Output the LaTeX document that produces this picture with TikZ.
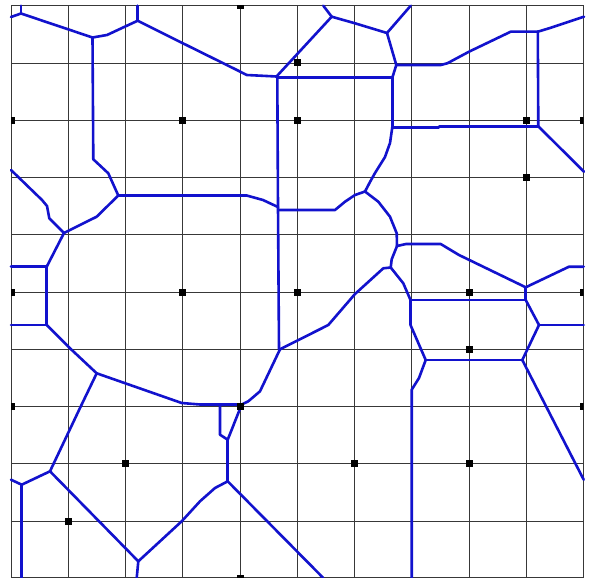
\documentclass[tikz,border=0pt]{standalone}
\definecolor{vblue}{RGB}{18,18,205}
\begin{document}
\begin{tikzpicture}[x=1pt,y=-1pt,
  gridline/.style={draw=black!78, line width=0.9pt},
  edge/.style={draw=vblue, line width=2.6pt, line join=round, line cap=round},
  site/.style={fill=black}]
\useasboundingbox (0,0) rectangle (589,578);
\fill[white] (0,0) rectangle (589,578);
% grid
\foreach \i in {0,...,10} {
  \draw[gridline] ({11+57.27*\i},5.7) -- ({11+57.27*\i},577.6);
}
\foreach \j in {0,...,9} {
  \draw[gridline] (11,{5.7+57.27*\j}) -- (583.7,{5.7+57.27*\j});
}
\draw[gridline] (11,577.6) -- (583.7,577.6);
% junctions
\coordinate (jA) at (21,13.5);
\coordinate (jB) at (92.5,37.5);
\coordinate (jC) at (137.7,20.7);
\coordinate (jD) at (276.5,76.5);
\coordinate (jE) at (331.7,16.7);
\coordinate (jF) at (387,33);
\coordinate (jG) at (396.3,65);
\coordinate (jH) at (392.3,77.7);
\coordinate (jI) at (537.8,31.7);
\coordinate (jJ) at (538.3,126.3);
\coordinate (jK) at (392.3,127.3);
\coordinate (jL) at (118.3,195.5);
\coordinate (jM) at (64,233);
\coordinate (jN) at (278,207);
\coordinate (jO) at (365,191.5);
\coordinate (jP) at (397,246);
\coordinate (jQ) at (390.7,267.5);
\coordinate (jR) at (410.5,300);
\coordinate (jS) at (525.7,287.3);
\coordinate (jT) at (525.7,300);
\coordinate (jU) at (539,325);
\coordinate (jV) at (522.3,360);
\coordinate (jW) at (425.7,360);
\coordinate (jX) at (46.7,266.7);
\coordinate (jY) at (46.7,325);
\coordinate (jZ) at (96.7,373.3);
\coordinate (k1) at (220,404.5);
\coordinate (k2) at (241.7,404.5);
\coordinate (k3) at (227.7,439.7);
\coordinate (k4) at (227.7,481.3);
\coordinate (k5) at (280,349.3);
\coordinate (k6) at (50,471.3);
\coordinate (k7) at (21.7,484.7);
\coordinate (k8) at (138.3,561.3);
% edges
\draw[edge] (11,17) -- (jA);
\draw[edge] (21,5.7) -- (jA);
\draw[edge] (jA) -- (jB);
\draw[edge] (jB) -- (107,35) -- (jC);
\draw[edge] (137.7,5.7) -- (jC);
\draw[edge] (jC) -- (181.7,42.7) -- (238.3,70.7) -- (246.7,75) -- (jD);
\draw[edge] (jB) -- (93.3,159.3) -- (108.3,173.3) -- (jL);
\draw[edge] (11,170) -- (42,200) -- (47,206) -- (49.3,218.3) -- (jM);
\draw[edge] (jM) -- (96.7,216.7) -- (jL);
\draw[edge] (jL) -- (246.7,195.5) -- (263,200) -- (270,203.3) -- (jN);
\draw[edge] (jD) -- (277.3,77.7) -- (jN);
\draw[edge] (jN) -- (279,349.3) -- (k5);
\draw[edge] (278.5,210) -- (335,210) -- (345,201.7) -- (355,195) -- (jO);
\draw[edge] (jD) -- (jE);
\draw[edge] (jE) -- (323.3,5.7);
\draw[edge] (jE) -- (355,23.3) -- (jF);
\draw[edge] (jF) -- (410.7,5.7);
\draw[edge] (jF) -- (jG);
\draw[edge] (277.3,77.7) -- (jH);
\draw[edge] (jG) -- (jH);
\draw[edge] (jG) -- (440.7,65) -- (447.3,63.3) -- (469,51.7) -- (510.7,31.7) -- (jI);
\draw[edge] (jI) -- (549,28.3) -- (584,16.7);
\draw[edge] (jI) -- (jJ);
\draw[edge] (jJ) -- (439,126.3) -- (439,127.3) -- (jK);
\draw[edge] (jJ) -- (584,171.7);
\draw[edge] (jH) -- (jK);
\draw[edge] (jK) -- (390,143) -- (385,157) -- (375,173) -- (370,182) -- (jO);
\draw[edge] (jO) -- (378.3,201.7) -- (390,216.7) -- (396.7,233.3) -- (jP);
\draw[edge] (jP) -- (406,244) -- (440.7,244) -- (459,255) -- (jS);
\draw[edge] (jP) -- (391.7,259.3) -- (jQ);
\draw[edge] (jQ) -- (383.3,268.3) -- (355,294) -- (328.3,325) -- (k5);
\draw[edge] (jQ) -- (403.3,283.3) -- (jR);
\draw[edge] (jR) -- (jT);
\draw[edge] (jS) -- (jT);
\draw[edge] (jS) -- (569,266.7) -- (583.7,266.7);
\draw[edge] (jT) -- (jU);
\draw[edge] (jU) -- (583.7,325);
\draw[edge] (jU) -- (jV);
\draw[edge] (jR) -- (410.5,325) -- (jW);
\draw[edge] (jW) -- (jV);
\draw[edge] (jW) -- (419,378) -- (411.7,389.7) -- (411.7,578);
\draw[edge] (jV) -- (583.7,479.7);
\draw[edge] (jM) -- (jX);
\draw[edge] (jX) -- (11,266.7);
\draw[edge] (jX) -- (jY);
\draw[edge] (jY) -- (11,325);
\draw[edge] (jY) -- (70,348.3) -- (jZ);
\draw[edge] (jZ) -- (181.7,403) -- (200,404.5) -- (k1);
\draw[edge] (k1) -- (k2);
\draw[edge] (k1) -- (220,434.7) -- (k3);
\draw[edge] (k2) -- (k3);
\draw[edge] (k2) -- (248.3,401.3) -- (260,391.3) -- (k5);
\draw[edge] (k3) -- (k4);
\draw[edge] (k4) -- (215,488) -- (200,501.3) -- (181.7,521.3) -- (k8);
\draw[edge] (k4) -- (323.3,578);
\draw[edge] (jZ) -- (80,408) -- (k6);
\draw[edge] (k6) -- (k7);
\draw[edge] (k7) -- (11,479.7);
\draw[edge] (k7) -- (21.7,578);
\draw[edge] (k6) -- (k8);
\draw[edge] (k8) -- (136.7,578);
% sites
\begin{scope}
\clip (11,5.7) rectangle (583.7,577.6);
\foreach \c/\r in {4/0,5/1,5/2,3/2,0/2,9/2,10/2,9/3,0/5,3/5,5/5,8/5,10/5,8/6,0/7,4/7,10/7,2/8,6/8,8/8,1/9,4/10} {
  \fill[site] ({11+57.27*\c-3.5},{5.7+57.27*\r-3.5}) rectangle +(7,7);
}
\end{scope}
\end{tikzpicture}
\end{document}
